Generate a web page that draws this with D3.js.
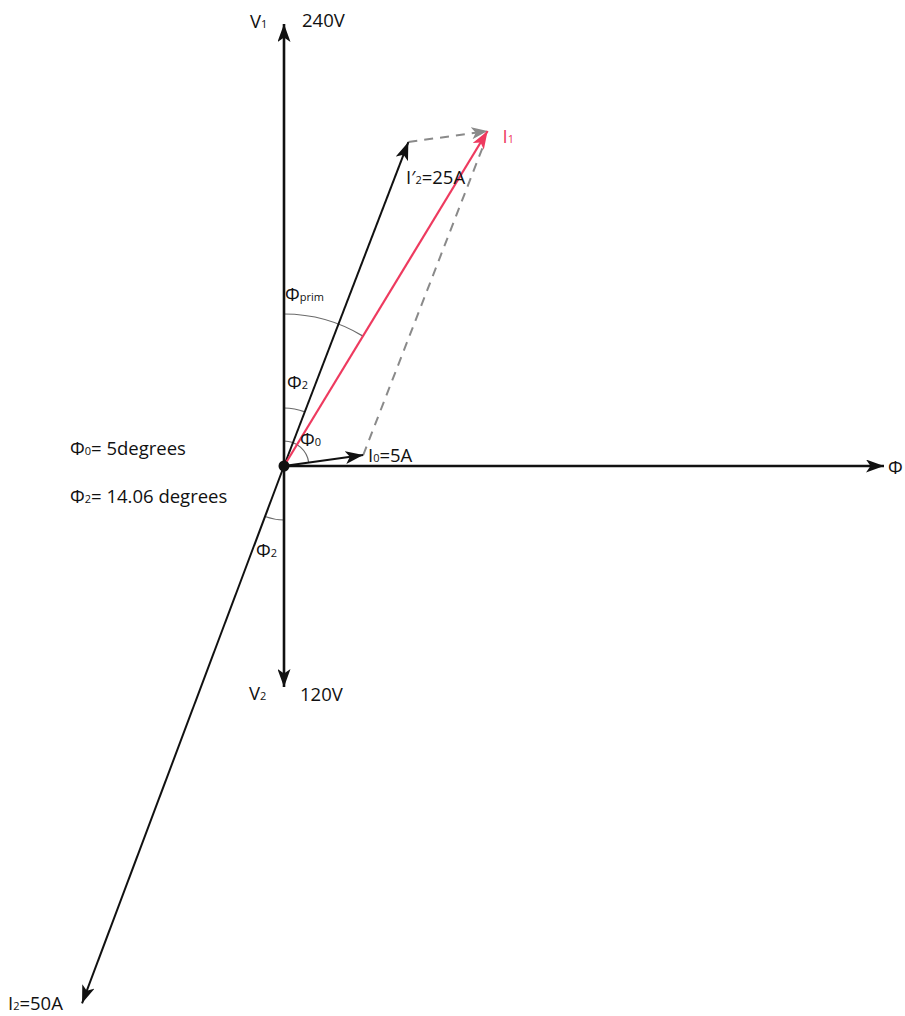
<!DOCTYPE html>
<html>
<head>
<meta charset="utf-8">
<script src="https://cdn.jsdelivr.net/npm/d3@7"></script>
<style>
  body { margin: 0; background: #fff; }
  text { font-family: "Open Sans", "Noto Sans", sans-serif; font-size: 18.5px; fill: #111; }
</style>
</head>
<body>
<svg id="chart"></svg>
<script>
// phasor diagram, lengths in diagram units, angles in degrees from the flux axis

var width = 905,
	height = 1016;

var phasorNames = ['V1', 'V2', 'Phi', 'I2p', 'I2', 'I0'];
var phasorLength = [44.2, 22.1, 60.0, 34.7, 57.4, 8.0];
var phasorAngle = [90, 270, 0, 69.0, 249.4, 7.9];

var arcNames = ['prim', 'phi2Top', 'phi0', 'phi2Bottom'];
var arcRadius = [15.2, 5.8, 2.5, 5.4];

var xScale = d3.scaleLinear() // origin sits at x = 284
				.domain([-28.4, 62.1])
				.range([0, width]);

var yScale = d3.scaleLinear() // origin sits at y = 466
				.domain([46.6, -55.0])
				.range([0, height]);

var unitPx = xScale(1) - xScale(0);

var phasors = {};
phasorNames.forEach(function(n, i) {
	var a = phasorAngle[i] * Math.PI / 180;
	phasors[n] = { x: phasorLength[i] * Math.cos(a), y: phasorLength[i] * Math.sin(a), angle: phasorAngle[i] };
});
// I1 is the sum of the no-load current and the reflected load current
phasors.I1 = { x: phasors.I0.x + phasors.I2p.x, y: phasors.I0.y + phasors.I2p.y };
phasors.I1.angle = Math.atan2(phasors.I1.y, phasors.I1.x) * 180 / Math.PI;

var svg = d3.select('#chart')
			.attr('width', width)
			.attr('height', height);

var defs = svg.append('defs');
function marker(id, color, len, wid) {
	defs.append('marker')
		.attr('id', id)
		.attr('markerUnits', 'userSpaceOnUse')
		.attr('viewBox', '0 0 ' + len + ' ' + wid)
		.attr('markerWidth', len)
		.attr('markerHeight', wid)
		.attr('refX', len)
		.attr('refY', wid / 2)
		.attr('orient', 'auto')
	  .append('path')
		.attr('d', 'M0,0 L' + len + ',' + (wid / 2) + ' L0,' + wid + ' L' + (len * 0.25) + ',' + (wid / 2) + ' Z')
		.attr('fill', color);
}
marker('arrowBlack', '#111', 18, 13);
marker('arrowRed', '#ee3a5f', 18, 13);
marker('arrowGray', '#8a8a8a', 16, 12);

var ox = xScale(0), oy = yScale(0);

// dashed construction lines of the parallelogram
svg.append('line')
	.attr('x1', xScale(phasors.I2p.x)).attr('y1', yScale(phasors.I2p.y))
	.attr('x2', xScale(phasors.I1.x)).attr('y2', yScale(phasors.I1.y))
	.attr('stroke', '#8a8a8a').attr('stroke-width', 2)
	.attr('stroke-dasharray', '9,7')
	.attr('marker-end', 'url(#arrowGray)');

svg.append('line')
	.attr('x1', xScale(phasors.I0.x)).attr('y1', yScale(phasors.I0.y))
	.attr('x2', xScale(phasors.I1.x) - 4).attr('y2', yScale(phasors.I1.y) + 14)
	.attr('stroke', '#8a8a8a').attr('stroke-width', 2)
	.attr('stroke-dasharray', '9,7');

// angle arcs
var arcFrom = [90, 90, 90, 249.4];
var arcTo = [phasors.I1.angle, phasors.I2p.angle, phasors.I0.angle, 270];
arcNames.forEach(function(n, i) {
	var r = arcRadius[i] * unitPx;
	var a0 = arcFrom[i] * Math.PI / 180, a1 = arcTo[i] * Math.PI / 180;
	var path = d3.path();
	path.moveTo(ox + r * Math.cos(a0), oy - r * Math.sin(a0));
	path.arc(ox, oy, r, -a0, -a1, a1 > a0 ? true : false);
	svg.append('path')
		.attr('d', path.toString())
		.attr('fill', 'none')
		.attr('stroke', '#6a6a6a')
		.attr('stroke-width', 1.2);
});

// phasor arrows
var axisNames = ['V1', 'V2', 'Phi'];
phasorNames.forEach(function(n) {
	svg.append('line')
		.attr('x1', ox).attr('y1', oy)
		.attr('x2', xScale(phasors[n].x)).attr('y2', yScale(phasors[n].y))
		.attr('stroke', '#111')
		.attr('stroke-width', axisNames.indexOf(n) >= 0 ? 2.6 : 2)
		.attr('marker-end', 'url(#arrowBlack)');
});

svg.append('line')
	.attr('x1', ox).attr('y1', oy)
	.attr('x2', xScale(phasors.I1.x)).attr('y2', yScale(phasors.I1.y))
	.attr('stroke', '#ee3a5f')
	.attr('stroke-width', 2.2)
	.attr('marker-end', 'url(#arrowRed)');

svg.append('circle')
	.attr('cx', ox).attr('cy', oy)
	.attr('r', 5.5)
	.attr('fill', '#111');

// labels, parts marked with _ are subscripts
function label(x, y, str, color) {
	var t = svg.append('text').attr('x', x).attr('y', y);
	if (color) t.style('fill', color);
	str.split(/(_[^ =]+)/).forEach(function(p) {
		if (!p) return;
		if (p[0] === '_') {
			t.append('tspan').style('font-size', '11px').text(p.slice(1));
		} else {
			t.append('tspan').text(p);
		}
	});
	return t;
}

label(250, 28, 'V_1');
label(302, 27, '240V');
label(249, 700, 'V_2');
label(300, 701, '120V');
label(xScale(phasors.I1.x) + 15, yScale(phasors.I1.y) + 12, 'I_1', '#ee3a5f');
label(406, 184, 'I′_2=25A');
label(285, 301, 'Φ_prim');
label(287, 389, 'Φ_2');
label(300, 446, 'Φ_0');
label(368, 462, 'I_0=5A');
label(888, 474, 'Φ');
label(256, 557, 'Φ_2');
label(8, 1010, 'I_2=50A');
label(70, 455, 'Φ_0= 5degrees');
label(70, 503, 'Φ_2= 14.06 degrees');
</script>
</body>
</html>
